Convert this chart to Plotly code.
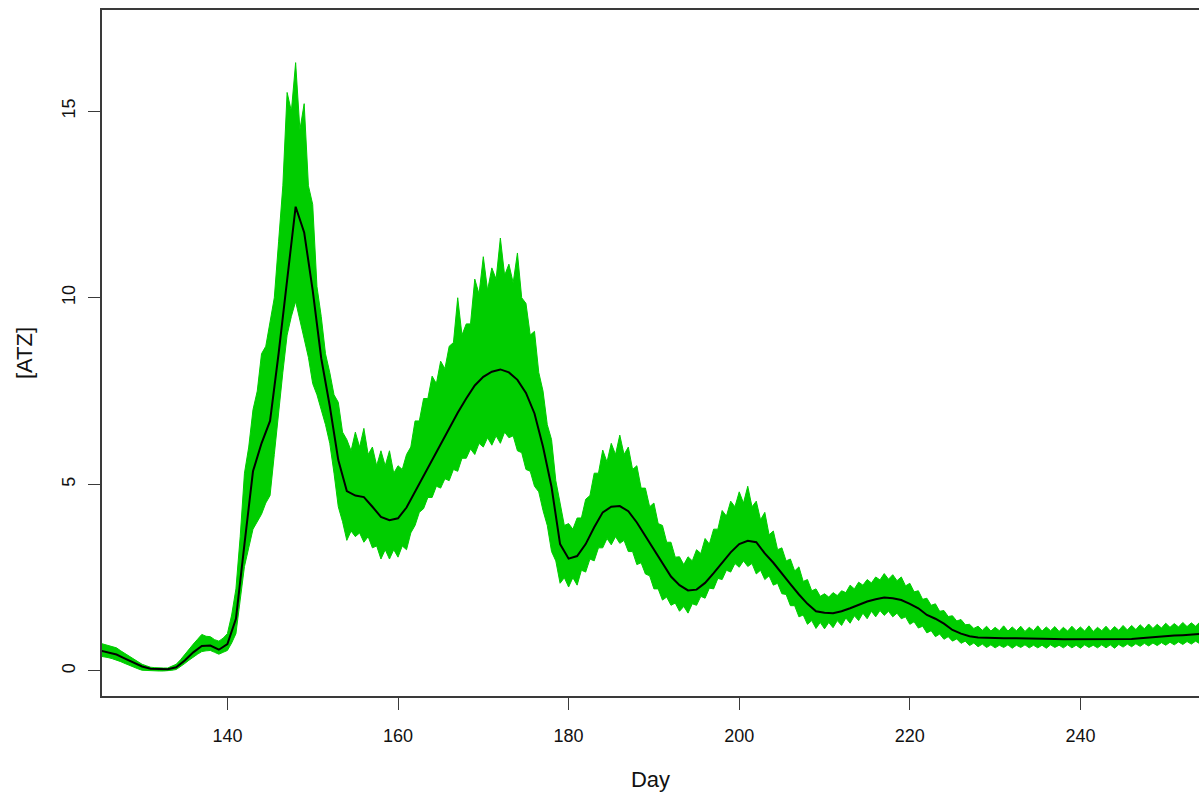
import plotly.graph_objects as go

days = list(range(125, 255))
half_days = [d + 0.5 for d in range(125, 254)]

mean_atz = [
    0.55, 0.50, 0.44, 0.33, 0.22, 0.12, 0.06, 0.05, 0.05, 0.10,   # 125-134
    0.28, 0.50, 0.67, 0.68, 0.57, 0.72, 1.40, 3.40, 5.35, 6.10,   # 135-144
    6.70, 8.50, 10.47, 12.44, 11.75, 10.20, 8.38, 7.10, 5.65, 4.82,  # 145-154
    4.70, 4.66, 4.40, 4.13, 4.04, 4.09, 4.38, 4.80, 5.25, 5.65,   # 155-164
    6.05, 6.47, 6.92, 7.30, 7.65, 7.88, 8.02, 8.08, 8.00, 7.80,   # 165-174
    7.45, 6.90, 6.01, 4.93, 3.40, 3.01, 3.08, 3.40, 3.85, 4.25,   # 175-184
    4.40, 4.42, 4.28, 3.98, 3.62, 3.25, 2.87, 2.53, 2.30, 2.16,   # 185-194
    2.18, 2.36, 2.62, 2.90, 3.18, 3.40, 3.49, 3.45, 3.15, 2.90,   # 195-204
    2.63, 2.33, 2.05, 1.80, 1.60, 1.56, 1.55, 1.60, 1.68, 1.77,   # 205-214
    1.86, 1.92, 1.97, 1.95, 1.90, 1.80, 1.68, 1.50, 1.40, 1.27,   # 215-224
    1.10, 1.00, 0.93, 0.90, 0.89, 0.89, 0.88, 0.88, 0.88, 0.87,   # 225-234
    0.87, 0.87, 0.86, 0.85, 0.85, 0.85, 0.84, 0.84, 0.84, 0.84,   # 235-244
    0.85, 0.86, 0.88, 0.90, 0.91, 0.93, 0.95, 0.96, 0.97, 0.99,   # 245-254
]

# outer edge of the ensemble band at whole days (spike tips)
upper_atz = [
    0.75, 0.70, 0.62, 0.47, 0.32, 0.18, 0.10, 0.08, 0.08, 0.18,
    0.45, 0.72, 0.98, 0.92, 0.80, 1.00, 2.20, 5.30, 7.00, 8.50,
    9.40, 11.50, 15.50, 16.30, 15.20, 12.50, 9.50, 8.00, 7.20, 6.20,
    6.40, 6.50, 6.00, 5.90, 5.90, 5.50, 5.80, 6.70, 7.30, 7.90,
    8.30, 8.70, 10.00, 9.30, 10.50, 11.10, 10.80, 11.60, 10.90, 11.20,
    9.85, 9.10, 7.50, 6.20, 4.50, 3.95, 4.10, 4.60, 5.30, 5.92,
    6.10, 6.32, 6.00, 5.50, 4.90, 4.50, 3.90, 3.45, 3.06, 3.06,
    3.25, 3.55, 3.80, 4.30, 4.55, 4.80, 4.95, 4.55, 4.25, 3.75,
    3.30, 3.00, 2.79, 2.45, 2.20, 2.07, 2.10, 2.15, 2.30, 2.38,
    2.45, 2.52, 2.61, 2.58, 2.52, 2.35, 2.15, 1.95, 1.80, 1.62,
    1.48, 1.38, 1.25, 1.20, 1.20, 1.17, 1.21, 1.18, 1.20, 1.17,
    1.21, 1.18, 1.19, 1.17, 1.20, 1.18, 1.21, 1.17, 1.20, 1.19,
    1.22, 1.22, 1.24, 1.26, 1.25, 1.28, 1.27, 1.30, 1.29, 1.31,
]
# notches of the upper edge between whole days
upper_notch = [
    0.72, 0.66, 0.54, 0.39, 0.25, 0.14, 0.09, 0.08, 0.12, 0.30,
    0.58, 0.85, 0.93, 0.84, 0.88, 1.50, 3.60, 6.00, 7.50, 8.70,
    10.0, 13.0, 15.0, 14.5, 13.0, 10.3, 8.5, 7.4, 6.4, 5.9,
    6.0, 5.8, 5.5, 5.5, 5.3, 5.4, 6.0, 6.7, 7.3, 7.7,
    8.1, 8.8, 9.0, 9.3, 10.1, 10.2, 10.5, 10.6, 10.4, 10.0,
    9.0, 8.0, 6.6, 5.1, 3.9, 3.8, 4.1, 4.7, 5.3, 5.6,
    5.8, 5.8, 5.4, 4.9, 4.4, 3.95, 3.45, 3.05, 2.85, 2.95,
    3.15, 3.4, 3.8, 4.15, 4.4, 4.5, 4.4, 4.05, 3.65, 3.25,
    2.95, 2.68, 2.40, 2.15, 2.00, 1.98, 2.02, 2.10, 2.20, 2.30,
    2.36, 2.44, 2.46, 2.42, 2.28, 2.12, 1.92, 1.76, 1.60, 1.46,
    1.34, 1.24, 1.14, 1.09, 1.07, 1.08, 1.07, 1.08, 1.06, 1.08,
    1.07, 1.08, 1.06, 1.07, 1.08, 1.07, 1.06, 1.08, 1.07, 1.09,
    1.10, 1.11, 1.13, 1.14, 1.15, 1.17, 1.18, 1.19, 1.20,
]

lower_atz = [
    0.40, 0.36, 0.30, 0.20, 0.10, 0.02, 0.00, 0.00, 0.00, 0.04,
    0.20, 0.38, 0.52, 0.55, 0.45, 0.55, 1.00, 2.80, 3.80, 4.20,
    4.70, 6.80, 9.00, 9.90, 8.90, 7.70, 7.00, 6.10, 4.40, 3.50,
    3.60, 3.45, 3.30, 3.00, 3.00, 3.05, 3.25, 3.90, 4.35, 4.65,
    4.90, 5.10, 5.35, 5.70, 5.80, 6.00, 6.05, 6.10, 6.25, 5.90,
    5.40, 4.95, 4.30, 3.20, 2.35, 2.25, 2.30, 2.65, 2.95, 3.30,
    3.38, 3.42, 3.20, 2.85, 2.60, 2.20, 1.90, 1.76, 1.60, 1.55,
    1.76, 1.95, 2.20, 2.45, 2.65, 2.78, 2.80, 2.60, 2.45, 2.30,
    2.07, 1.75, 1.45, 1.25, 1.14, 1.13, 1.16, 1.22, 1.28, 1.35,
    1.40, 1.45, 1.49, 1.45, 1.40, 1.25, 1.15, 1.02, 0.92, 0.85,
    0.80, 0.74, 0.68, 0.65, 0.63, 0.62, 0.63, 0.61, 0.63, 0.62,
    0.62, 0.61, 0.63, 0.62, 0.62, 0.61, 0.63, 0.62, 0.62, 0.61,
    0.64, 0.65, 0.66, 0.67, 0.68, 0.69, 0.70, 0.71, 0.72, 0.73,
]
lower_notch = [
    0.38, 0.33, 0.25, 0.15, 0.06, 0.01, 0.00, 0.00, 0.02, 0.12,
    0.29, 0.45, 0.54, 0.50, 0.50, 0.75, 1.90, 3.30, 4.00, 4.50,
    5.80, 8.00, 9.50, 9.40, 8.40, 7.40, 6.60, 5.30, 4.00, 3.75,
    3.70, 3.60, 3.35, 3.25, 3.25, 3.35, 3.70, 4.25, 4.65, 4.95,
    5.15, 5.40, 5.70, 5.95, 6.10, 6.25, 6.30, 6.40, 6.30, 5.85,
    5.35, 4.80, 3.90, 2.95, 2.50, 2.50, 2.70, 3.00, 3.30, 3.55,
    3.60, 3.50, 3.20, 2.90, 2.55, 2.20, 1.98, 1.82, 1.73, 1.80,
    2.00, 2.22, 2.48, 2.70, 2.88, 2.95, 2.88, 2.70, 2.55, 2.35,
    2.05, 1.75, 1.50, 1.35, 1.30, 1.30, 1.35, 1.42, 1.48, 1.55,
    1.60, 1.62, 1.60, 1.55, 1.45, 1.32, 1.20, 1.08, 0.99, 0.92,
    0.86, 0.80, 0.75, 0.72, 0.70, 0.69, 0.70, 0.69, 0.70, 0.69,
    0.69, 0.70, 0.69, 0.70, 0.69, 0.70, 0.69, 0.70, 0.70, 0.71,
    0.72, 0.73, 0.74, 0.75, 0.76, 0.77, 0.78, 0.79, 0.80,
]

x_ticks = [140, 160, 180, 200, 220, 240]
y_ticks = [0, 5, 10, 15]

GREEN = "#00CD00"
AXIS = "#3a3a3a"
FONT = "Liberation Sans, Arial, sans-serif"

# interleave whole-day tips and half-day notches into one band outline
band_x, band_up, band_lo = [], [], []
for i, d in enumerate(days):
    band_x.append(d)
    band_up.append(upper_atz[i])
    band_lo.append(lower_atz[i])
    if i < len(half_days):
        band_x.append(half_days[i])
        band_up.append(upper_notch[i])
        band_lo.append(lower_notch[i])

poly_x = band_x + band_x[::-1]
poly_y = band_up + band_lo[::-1]

fig = go.Figure()
fig.add_trace(go.Scatter(x=poly_x, y=poly_y, mode="lines", fill="toself",
                         fillcolor=GREEN, line=dict(color=GREEN, width=1),
                         hoverinfo="skip", showlegend=False))
fig.add_trace(go.Scatter(x=days, y=mean_atz, mode="lines",
                         line=dict(color="black", width=2), showlegend=False))

fig.update_layout(
    width=1199, height=794,
    margin=dict(l=102, r=0, t=10, b=98),
    paper_bgcolor="white", plot_bgcolor="white",
    font=dict(family=FONT, size=18, color="#111"),
)
fig.update_xaxes(
    range=[125.3, 253.9], tickvals=x_ticks, ticktext=[str(v) for v in x_ticks],
    ticks="outside", ticklen=12, tickcolor=AXIS, tickwidth=1,
    showline=True, linecolor=AXIS, linewidth=1.5, mirror=True,
    showgrid=False, zeroline=False,
    title=dict(text="Day", standoff=26), ticklabelstandoff=11,
)
fig.update_yaxes(
    range=[-0.67, 17.71], tickvals=y_ticks, ticktext=[str(v) for v in y_ticks],
    ticks="outside", ticklen=12, tickcolor=AXIS, tickwidth=1,
    showline=True, linecolor=AXIS, linewidth=1.5, tickangle=-90,
    showgrid=False, zeroline=False,
    title=dict(text="[ATZ]", standoff=20), ticklabelstandoff=6,
)

fig.write_html("out.html")
